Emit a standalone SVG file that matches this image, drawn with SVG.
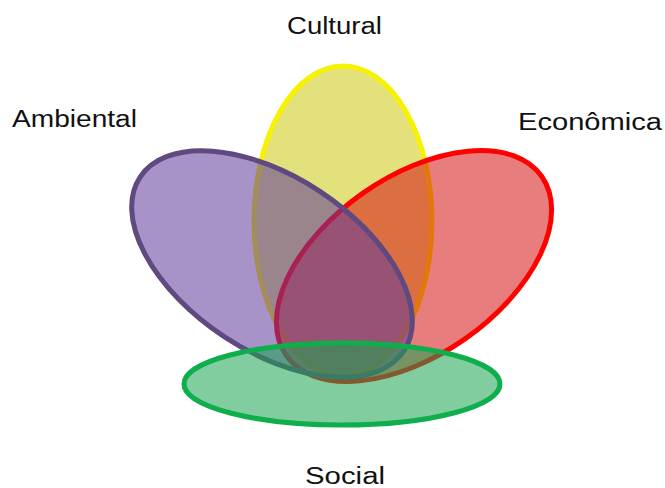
<svg xmlns="http://www.w3.org/2000/svg" width="665" height="488" viewBox="0 0 665 488">
  <style>
    .lbl { font-family: "Liberation Sans", Arial, sans-serif; font-size: 23px; fill: #111111; }
    .petal { stroke-width: 5; }
  </style>
  <rect x="0" y="0" width="665" height="488" fill="#ffffff"/>
  <g id="cultural">
    <ellipse class="petal" cx="343" cy="221" rx="89" ry="155" fill="#e3e17b" stroke="#f7f200"/>
  </g>
  <g id="economica">
    <ellipse class="petal" cx="414" cy="266" rx="156" ry="89" transform="rotate(-35 414 266)" fill="#d51212" fill-opacity="0.55" stroke="#ff0000"/>
  </g>
  <g id="ambiental">
    <ellipse class="petal" cx="272" cy="264" rx="158" ry="87" transform="rotate(33.4 272 264)" fill="#603a9c" fill-opacity="0.55" stroke="#5e4a80"/>
  </g>
  <g id="social">
    <ellipse class="petal" cx="342" cy="384" rx="158" ry="41" fill="#1ba452" fill-opacity="0.55" stroke="#0eae4c"/>
  </g>
  <g id="connectors"></g>
  <g id="labels">
    <text class="lbl" x="287" y="34" textLength="95" lengthAdjust="spacingAndGlyphs">Cultural</text>
    <text class="lbl" x="12" y="127" textLength="125" lengthAdjust="spacingAndGlyphs">Ambiental</text>
    <text class="lbl" x="518" y="130" textLength="144" lengthAdjust="spacingAndGlyphs">Econômica</text>
    <text class="lbl" x="305" y="484" textLength="80" lengthAdjust="spacingAndGlyphs">Social</text>
  </g>
</svg>
